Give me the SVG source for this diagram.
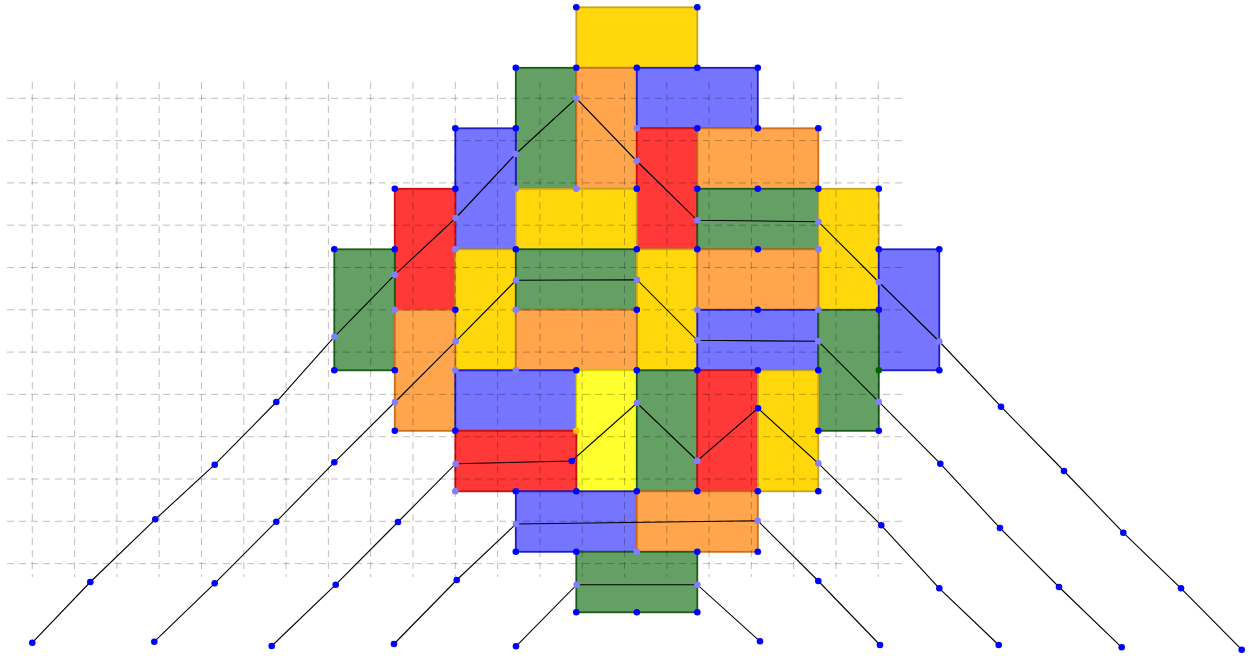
<svg xmlns="http://www.w3.org/2000/svg" width="1249" height="656" viewBox="0 0 1249 656">
<style>
.dm{stroke-width:1.8}
.y{fill:#FFD70A;stroke:#C8A51E}
.yy{fill:#FFFF2D;stroke:#D8D800}
.o{fill:#FFA54B;stroke:#CC6E1E}
.g{fill:#64A064;stroke:#1A5A1A}
.b{fill:#7575FF;stroke:#1C1CC8}
.r{fill:#FF3838;stroke:#CC1010}
.grid{fill:none;stroke:#000;stroke-opacity:0.25;stroke-width:1;stroke-dasharray:7 5}
.pl{fill:none;stroke:#000;stroke-width:1.1}
.d{fill:#0000FF}
.l{fill:#7F7FFF}
.dg{fill:#006400}
.og{fill:#FFC000}
</style>
<g id="dominoes">
<g id="d1"><rect class="dm y" x="576.3" y="7.3" width="121" height="60.5"/></g>
<g id="d2"><rect class="dm g" x="515.8" y="67.8" width="60.5" height="121"/></g>
<g id="d3"><rect class="dm o" x="576.3" y="67.8" width="60.5" height="121"/></g>
<g id="d4"><rect class="dm b" x="636.8" y="67.8" width="121" height="60.5"/></g>
<g id="d5"><rect class="dm b" x="455.3" y="128.3" width="60.5" height="121"/></g>
<g id="d6"><rect class="dm r" x="636.8" y="128.3" width="60.5" height="121"/></g>
<g id="d7"><rect class="dm o" x="697.3" y="128.3" width="121" height="60.5"/></g>
<g id="d8"><rect class="dm r" x="394.8" y="188.8" width="60.5" height="121"/></g>
<g id="d9"><rect class="dm y" x="515.8" y="188.8" width="121" height="60.5"/></g>
<g id="d10"><rect class="dm g" x="697.3" y="188.8" width="121" height="60.5"/></g>
<g id="d11"><rect class="dm y" x="818.3" y="188.8" width="60.5" height="121"/></g>
<g id="d12"><rect class="dm g" x="334.3" y="249.3" width="60.5" height="121"/></g>
<g id="d13"><rect class="dm y" x="455.3" y="249.3" width="60.5" height="121"/></g>
<g id="d14"><rect class="dm g" x="515.8" y="249.3" width="121" height="60.5"/></g>
<g id="d15"><rect class="dm y" x="636.8" y="249.3" width="60.5" height="121"/></g>
<g id="d16"><rect class="dm o" x="697.3" y="249.3" width="121" height="60.5"/></g>
<g id="d17"><rect class="dm b" x="878.8" y="249.3" width="60.5" height="121"/></g>
<g id="d18"><rect class="dm o" x="394.8" y="309.8" width="60.5" height="121"/></g>
<g id="d19"><rect class="dm o" x="515.8" y="309.8" width="121" height="60.5"/></g>
<g id="d20"><rect class="dm b" x="697.3" y="309.8" width="121" height="60.5"/></g>
<g id="d21"><rect class="dm g" x="818.3" y="309.8" width="60.5" height="121"/></g>
<g id="d22"><rect class="dm b" x="455.3" y="370.3" width="121" height="60.5"/></g>
<g id="d23"><rect class="dm yy" x="576.3" y="370.3" width="60.5" height="121"/></g>
<g id="d24"><rect class="dm g" x="636.8" y="370.3" width="60.5" height="121"/></g>
<g id="d25"><rect class="dm r" x="697.3" y="370.3" width="60.5" height="121"/></g>
<g id="d26"><rect class="dm y" x="757.8" y="370.3" width="60.5" height="121"/></g>
<g id="d27"><rect class="dm r" x="455.3" y="430.8" width="121" height="60.5"/></g>
<g id="d28"><rect class="dm b" x="515.8" y="491.3" width="121" height="60.5"/></g>
<g id="d29"><rect class="dm o" x="636.8" y="491.3" width="121" height="60.5"/></g>
<g id="d30"><rect class="dm g" x="576.3" y="551.8" width="121" height="60.5"/></g>
</g>
<g id="grid">
<path class="grid" d="M7 98.3H905M7 140.6H905M7 182.9H905M7 225.2H905M7 267.5H905M7 309.8H905M7 352.1H905M7 394.4H905M7 436.7H905M7 479H905M7 521.3H905M7 563.6H905"/>
<path class="grid" d="M32.3 82V577M74.6 82V577M116.9 82V577M159.2 82V577M201.5 82V577M243.8 82V577M286.1 82V577M328.4 82V577M370.7 82V577M413 82V577M455.3 82V577M497.6 82V577M539.9 82V577M582.2 82V577M624.5 82V577M666.8 82V577M709.1 82V577M751.4 82V577M793.7 82V577M836 82V577M878.3 82V577"/>
</g>
<g id="connectors">
<polyline class="pl" points="32.3,642.7 90.3,582 155.3,519.3 214.7,464.7 276.3,402 334.5,336.7 395,274.7 455.7,218 515.7,154 576.3,98.3 636.7,161 697.3,220.3 818.3,221.7 878.7,282 939.3,341.5 1001,406.7 1064,471 1123.3,532.7 1181,588.3 1241.7,649.7"/>
<polyline class="pl" points="154.3,641.7 214.7,583.3 276.3,521.7 334.3,462.3 395,402 455.7,341.3 516,280.3 637,279.7 697.3,340.3 818.3,341.3 878.7,401.7 940.3,463.7 1000,528 1059,587 1121.7,647.3"/>
<polyline class="pl" points="271.7,646 335.7,584.7 398,522 455.7,463.7 571.7,461 637,403 697.3,460.7 758,408.3 818.3,463.3 881.3,525.3 939.3,588.3 998.7,645"/>
<polyline class="pl" points="394,644 456.7,580 516,524 757.7,520.7 818.3,581 880,645"/>
<polyline class="pl" points="516,646.3 576.7,584.7 697.3,584.7 760,641.3"/>
</g>
<g id="vertices">
<g class="d">
<circle cx="576.3" cy="7.3" r="3.3"/><circle cx="697.3" cy="7.3" r="3.3"/>
<circle cx="515.8" cy="67.8" r="3.3"/><circle cx="576.3" cy="67.8" r="3.3"/><circle cx="636.8" cy="67.8" r="3.3"/><circle cx="697.3" cy="67.8" r="3.3"/><circle cx="757.8" cy="67.8" r="3.3"/>
<circle cx="455.3" cy="128.3" r="3.3"/><circle cx="515.8" cy="128.3" r="3.3"/><circle cx="697.3" cy="128.3" r="3.3"/><circle cx="757.8" cy="128.3" r="3.3"/><circle cx="818.3" cy="128.3" r="3.3"/>
<circle cx="394.8" cy="188.8" r="3.3"/><circle cx="455.3" cy="188.8" r="3.3"/><circle cx="636.8" cy="188.8" r="3.3"/><circle cx="697.3" cy="188.8" r="3.3"/><circle cx="757.8" cy="188.8" r="3.3"/><circle cx="818.3" cy="188.8" r="3.3"/><circle cx="878.8" cy="188.8" r="3.3"/>
<circle cx="334.3" cy="249.3" r="3.3"/><circle cx="394.8" cy="249.3" r="3.3"/><circle cx="515.8" cy="249.3" r="3.3"/><circle cx="636.8" cy="249.3" r="3.3"/><circle cx="697.3" cy="249.3" r="3.3"/><circle cx="757.8" cy="249.3" r="3.3"/><circle cx="878.8" cy="249.3" r="3.3"/><circle cx="939.3" cy="249.3" r="3.3"/>
<circle cx="455.3" cy="309.8" r="3.3"/><circle cx="636.8" cy="309.8" r="3.3"/><circle cx="757.8" cy="309.8" r="3.3"/><circle cx="878.8" cy="309.8" r="3.3"/>
<circle cx="334.3" cy="370.3" r="3.3"/><circle cx="394.8" cy="370.3" r="3.3"/><circle cx="576.3" cy="370.3" r="3.3"/><circle cx="636.8" cy="370.3" r="3.3"/><circle cx="697.3" cy="370.3" r="3.3"/><circle cx="757.8" cy="370.3" r="3.3"/><circle cx="818.3" cy="370.3" r="3.3"/><circle cx="939.3" cy="370.3" r="3.3"/>
<circle cx="394.8" cy="430.8" r="3.3"/><circle cx="455.3" cy="430.8" r="3.3"/><circle cx="818.3" cy="430.8" r="3.3"/><circle cx="878.8" cy="430.8" r="3.3"/>
<circle cx="515.8" cy="491.3" r="3.3"/><circle cx="576.3" cy="491.3" r="3.3"/><circle cx="636.8" cy="491.3" r="3.3"/><circle cx="697.3" cy="491.3" r="3.3"/><circle cx="757.8" cy="491.3" r="3.3"/><circle cx="818.3" cy="491.3" r="3.3"/>
<circle cx="515.8" cy="551.8" r="3.3"/><circle cx="576.3" cy="551.8" r="3.3"/><circle cx="697.3" cy="551.8" r="3.3"/><circle cx="757.8" cy="551.8" r="3.3"/>
<circle cx="576.3" cy="612.3" r="3.3"/><circle cx="636.8" cy="612.3" r="3.3"/><circle cx="697.3" cy="612.3" r="3.3"/>
</g>
<g class="l">
<circle cx="636.8" cy="128.3" r="3.3"/>
<circle cx="515.8" cy="188.8" r="3.3"/><circle cx="576.3" cy="188.8" r="3.3"/>
<circle cx="455.3" cy="249.3" r="3.3"/><circle cx="818.3" cy="249.3" r="3.3"/>
<circle cx="394.8" cy="309.8" r="3.3"/><circle cx="515.8" cy="309.8" r="3.3"/><circle cx="697.3" cy="309.8" r="3.3"/><circle cx="818.3" cy="309.8" r="3.3"/>
<circle cx="455.3" cy="370.3" r="3.3"/><circle cx="515.8" cy="370.3" r="3.3"/>
<circle cx="455.3" cy="491.3" r="3.3"/>
<circle cx="636.8" cy="551.8" r="3.3"/>
</g>
<circle class="dg" cx="878.8" cy="370.3" r="3.3"/>
<circle class="og" cx="576.3" cy="430.8" r="3.3"/>
</g>
<g id="path-points">
<g class="d">
<circle cx="32.3" cy="642.7" r="3.3"/><circle cx="90.3" cy="582" r="3.3"/><circle cx="155.3" cy="519.3" r="3.3"/><circle cx="214.7" cy="464.7" r="3.3"/><circle cx="276.3" cy="402" r="3.3"/>
<circle cx="1001" cy="406.7" r="3.3"/><circle cx="1064" cy="471" r="3.3"/><circle cx="1123.3" cy="532.7" r="3.3"/><circle cx="1181" cy="588.3" r="3.3"/><circle cx="1241.7" cy="649.7" r="3.3"/>
<circle cx="154.3" cy="641.7" r="3.3"/><circle cx="214.7" cy="583.3" r="3.3"/><circle cx="276.3" cy="521.7" r="3.3"/><circle cx="334.3" cy="462.3" r="3.3"/>
<circle cx="940.3" cy="463.7" r="3.3"/><circle cx="1000" cy="528" r="3.3"/><circle cx="1059" cy="587" r="3.3"/><circle cx="1121.7" cy="647.3" r="3.3"/>
<circle cx="271.7" cy="646" r="3.3"/><circle cx="335.7" cy="584.7" r="3.3"/><circle cx="398" cy="522" r="3.3"/><circle cx="571.7" cy="461" r="3.3"/><circle cx="758" cy="408.3" r="3.3"/>
<circle cx="881.3" cy="525.3" r="3.3"/><circle cx="939.3" cy="588.3" r="3.3"/><circle cx="998.7" cy="645" r="3.3"/>
<circle cx="394" cy="644" r="3.3"/><circle cx="456.7" cy="580" r="3.3"/><circle cx="818.3" cy="581" r="3.3"/><circle cx="880" cy="645" r="3.3"/>
<circle cx="516" cy="646.3" r="3.3"/><circle cx="760" cy="641.3" r="3.3"/>
</g>
<g class="l">
<circle cx="334.5" cy="336.7" r="3.3"/><circle cx="395" cy="274.7" r="3.3"/><circle cx="455.7" cy="218" r="3.3"/><circle cx="515.7" cy="154" r="3.3"/><circle cx="576.3" cy="98.3" r="3.3"/><circle cx="636.7" cy="161" r="3.3"/><circle cx="697.3" cy="220.3" r="3.3"/><circle cx="818.3" cy="221.7" r="3.3"/><circle cx="878.7" cy="282" r="3.3"/><circle cx="939.3" cy="341.5" r="3.3"/>
<circle cx="395" cy="402" r="3.3"/><circle cx="455.7" cy="341.3" r="3.3"/><circle cx="516" cy="280.3" r="3.3"/><circle cx="637" cy="279.7" r="3.3"/><circle cx="697.3" cy="340.3" r="3.3"/><circle cx="818.3" cy="341.3" r="3.3"/><circle cx="878.7" cy="401.7" r="3.3"/>
<circle cx="455.7" cy="463.7" r="3.3"/><circle cx="637" cy="403" r="3.3"/><circle cx="697.3" cy="460.7" r="3.3"/><circle cx="818.3" cy="463.3" r="3.3"/>
<circle cx="516" cy="524" r="3.3"/><circle cx="757.7" cy="520.7" r="3.3"/>
<circle cx="576.7" cy="584.7" r="3.3"/><circle cx="697.3" cy="584.7" r="3.3"/>
</g>
</g>
</svg>
